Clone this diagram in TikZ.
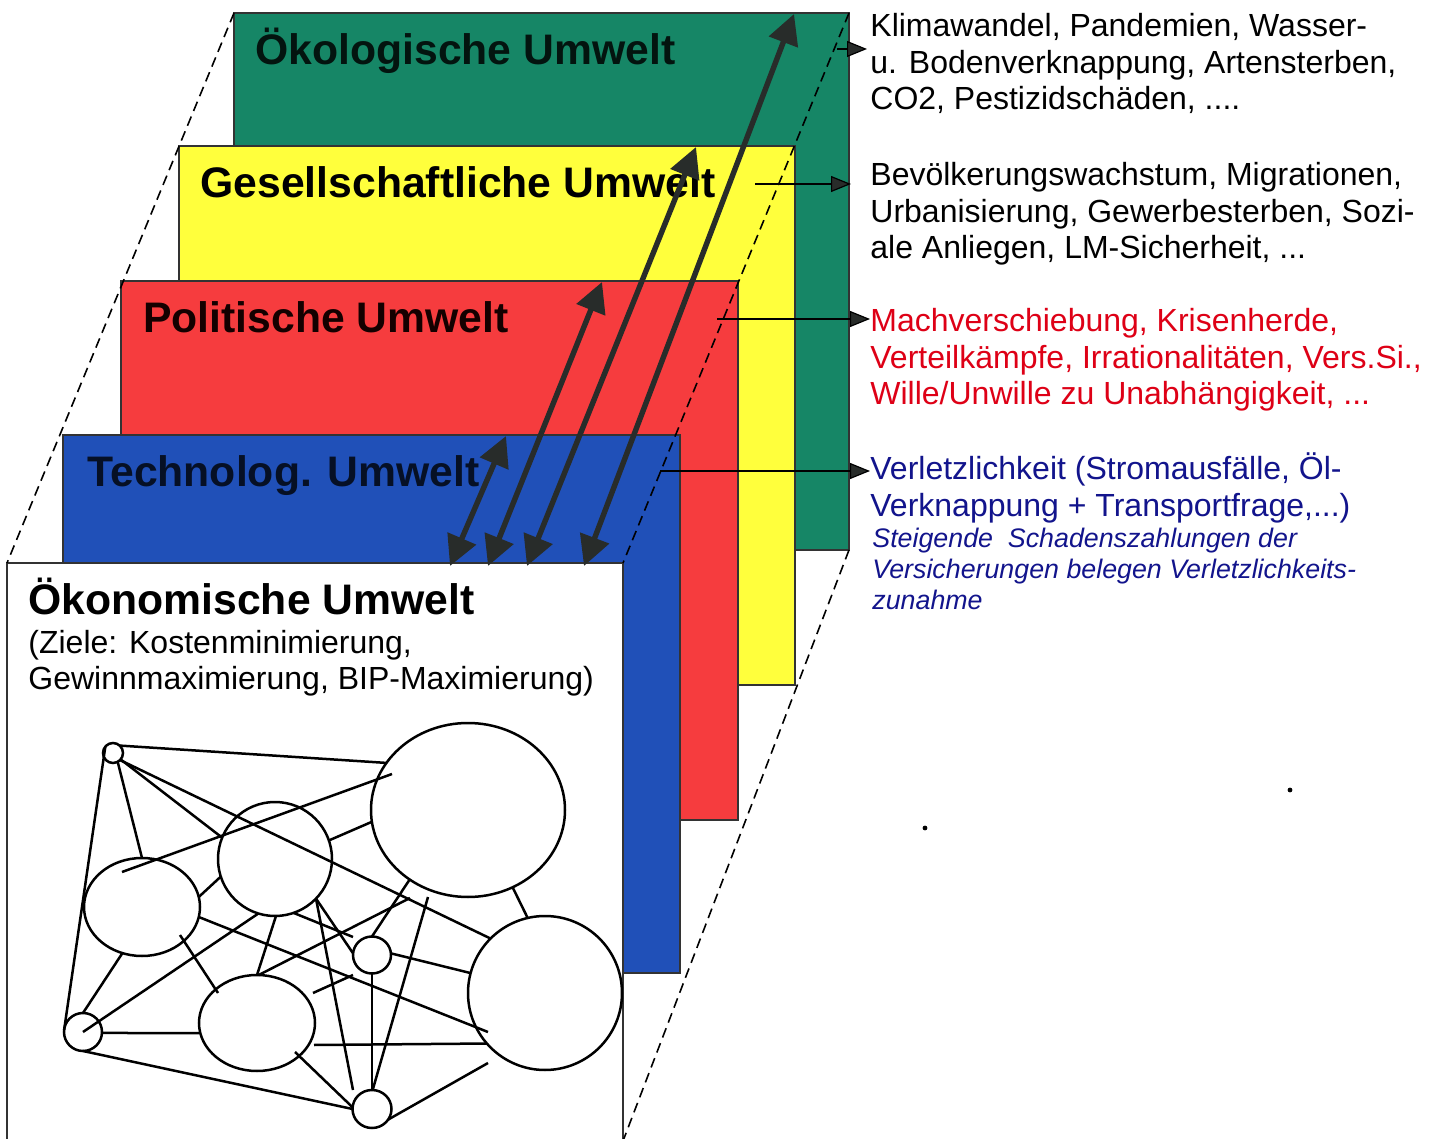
\documentclass[tikz,border=0pt]{standalone}
\usepackage{fontspec}
\setmainfont{Liberation Sans}
\usetikzlibrary{arrows.meta,calc,shapes.geometric}
\definecolor{ecogreen}{RGB}{22,134,102}
\definecolor{socyellow}{RGB}{255,255,60}
\definecolor{polred}{RGB}{246,60,62}
\definecolor{techblue}{RGB}{32,80,184}
\definecolor{arrowgray}{RGB}{40,44,42}
\definecolor{txtred}{RGB}{222,0,22}
\definecolor{txtblue}{RGB}{18,20,140}
\newcommand{\linesof}[1]{\begin{tabular}[t]{@{}l@{}}#1\end{tabular}}
\begin{document}
\begin{tikzpicture}[x=0.5pt,y=-0.5pt,
 layer/.style={draw=black!80, line width=0.7pt, anchor=north west, inner sep=0pt, outer sep=0pt},
 title/.style={anchor=base west, inner sep=0pt, font=\fontsize{21.35}{25}\selectfont\bfseries},
 body/.style={anchor=base west, inner sep=0pt, font=\fontsize{16}{18.25}\selectfont},
 note/.style={anchor=base west, inner sep=0pt, text=txtblue, font=\fontsize{13.4}{15.5}\selectfont\itshape},
 guide/.style={dash pattern=on 5pt off 3pt, line width=0.8pt},
 dbl/.style={draw=arrowgray, line width=2.7pt, {Triangle[length=15pt,width=15pt]}-{Triangle[length=15pt,width=15pt]}},
 pointer/.style={draw=black, line width=0.6pt, -{Triangle[length=10pt,width=8pt,fill=arrowgray]}},
 unit/.style={ellipse, draw, line width=1.25pt, inner sep=0pt, outer sep=0pt},
 link/.style={line width=1.25pt}
]
\useasboundingbox (0,0) rectangle (1442,1139);
\fill[white] (0,0) rectangle (1442,1139);

% layers
\node[layer, fill=ecogreen,  minimum width=307.5pt, minimum height=268.5pt] (eco)  at (234,13)  {};
\node[layer, fill=socyellow, minimum width=308pt,   minimum height=269.5pt] (soc)  at (179,146) {};
\node[layer, fill=polred,    minimum width=308.5pt, minimum height=269.5pt] (pol)  at (121,281) {};
\node[layer, fill=techblue,  minimum width=308.5pt, minimum height=269pt]   (tech) at (63,435)  {};
\node[layer, fill=white,     minimum width=308pt,   minimum height=289pt]   (oek)  at (7,563)   {};

% titles
\node[title, text=black!85!ecogreen] (tEco) at (255,65) {Ökologische Umwelt};
\node[title] (tSoc) at (200,198) {Gesellschaftliche Umwelt};
\node[title, text=black!92!red] (tPol) at (143,333) {Politische Umwelt};
\node[title, text=black!80!techblue] (tTech) at (87,487) {Technolog. Umwelt};
\node[title] (tOek) at (28,614) {Ökonomische Umwelt};
\node[body] (tGoal) at (28,653) {\linesof{(Ziele: Kostenminimierung,\\Gewinnmaximierung, BIP-Maximierung)}};

% guide lines
\draw[guide] (eco.north west) -- (oek.north west);
\draw[guide] (eco.north east) -- (oek.north east);
\draw[guide] (eco.south east) -- (oek.south east);

% double arrows
\coordinate (b1) at (450,566); \coordinate (u1) at (506,436);
\coordinate (b2) at (488,566); \coordinate (u2) at (602,282);
\coordinate (b3) at (527,566); \coordinate (u3) at (696,147);
\coordinate (b4) at (584,566); \coordinate (u4) at (794,14);
\draw[dbl] (b1) -- (u1);
\draw[dbl] (b2) -- (u2);
\draw[dbl] (b3) -- (u3);
\draw[dbl] (b4) -- (u4);

% right texts
\node[body] (rEco) at (870,37) {\linesof{Klimawandel, Pandemien, Wasser-\\u. Bodenverknappung, Artensterben,\\CO2, Pestizidschäden, ....}};
\node[body] (rSoc) at (870,186) {\linesof{Bevölkerungswachstum, Migrationen,\\Urbanisierung, Gewerbesterben, Sozi-\\ale Anliegen, LM-Sicherheit, ...}};
\node[body, text=txtred] (rPol) at (870,332) {\linesof{Machverschiebung, Krisenherde,\\Verteilkämpfe, Irrationalitäten, Vers.Si.,\\Wille/Unwille zu Unabhängigkeit, ...}};
\node[body, text=txtblue] (rTech) at (870,480) {\linesof{Verletzlichkeit (Stromausfälle, Öl-\\Verknappung + Transportfrage,...)}};
\node[note] (rNote) at (872,547) {\linesof{Steigende\ \ Schadenszahlungen der\\Versicherungen belegen Verletzlichkeits-\\zunahme}};

% pointers
\coordinate (s1) at (837,49); \coordinate (e1) at (867,49);
\coordinate (s2) at (755,184); \coordinate (e2) at (851,184);
\coordinate (s3) at (717,319); \coordinate (e3) at (870,319);
\coordinate (s4) at (660,471); \coordinate (e4) at (870,471);
\draw[pointer] (s1) -- (e1);
\draw[pointer] (s2) -- (e2);
\draw[pointer] (s3) -- (e3);
\draw[pointer] (s4) -- (e4);

% network
\node[unit, minimum width=10pt, minimum height=10pt] (A) at (113,753) {};
\node[unit, minimum width=97pt, minimum height=87pt] (B) at (468,810) {};
\node[unit, minimum width=57pt, minimum height=57pt] (C) at (275,859) {};
\node[unit, minimum width=58pt, minimum height=49pt] (D) at (142,907) {};
\node[unit, minimum width=19pt, minimum height=18.5pt] (E) at (372,955) {};
\node[unit, minimum width=58pt, minimum height=48pt] (F) at (257,1023) {};
\node[unit, minimum width=77pt, minimum height=77pt] (G) at (545,993) {};
\node[unit, minimum width=19pt, minimum height=19pt] (H) at (83,1032) {};
\node[unit, minimum width=19.5pt, minimum height=19pt] (I) at (372,1109) {};

\draw[link] (A.48) -- (B.150);
\draw[link] (A.-45) -- (G.135);
\draw[link] (A.-40) -- (C.158);
\draw[link] (A.-62) -- (D.90);
\draw[link] (A.140) -- (H.174);
\draw[link] ($(D)+(-20,-35)$) -- ($(B)+(-76,-36)$);
\draw[link] (C.19) -- (B.187);
\draw[link] (D.10) -- (C.198);
\draw[link] (D.-10) -- ($(G)+(-57,39)$);
\draw[link] (D.-113) -- (H.90);
\draw[link] (H.center) -- (C.-107);
\draw[link] (H.-3) -- (F.190);
\draw[link] (H.-90) -- (I.180);
\draw[link] ($(D)+(38,28)$) -- ($(F)+(-39,-30)$);
\draw[link] (C.-89) -- (F.90);
\draw[link] (F.88) -- ($(B)+(-58,88)$);
\draw[link] (E.90) -- (B.230);
\draw[link] (C.-71) -- ($(E)+(-19,-18)$);
\draw[link] (C.-44) -- ($(I)+(-19,-19)$);
\draw[link] (C.-44) -- (E.175);
\draw[link] (E.-90) -- (I.90);
\draw[link] ($(B)+(-40,87)$) -- (I.88);
\draw[link] (E.5) -- (G.165);
\draw[link] ($(F)+(56,-30)$) -- ($(E)+(-19,20)$);
\draw[link] ($(F)+(57,22)$) -- (G.221);
\draw[link] ($(F)+(38,29)$) -- (I.175);
\draw[link] (I.-33) -- ($(G)+(-57,70)$);
\draw[link] (B.-60) -- (G.103);

% specks
\fill (925,828) circle (1.2pt);
\fill (1290,790) circle (1.2pt);
\end{tikzpicture}
\end{document}
